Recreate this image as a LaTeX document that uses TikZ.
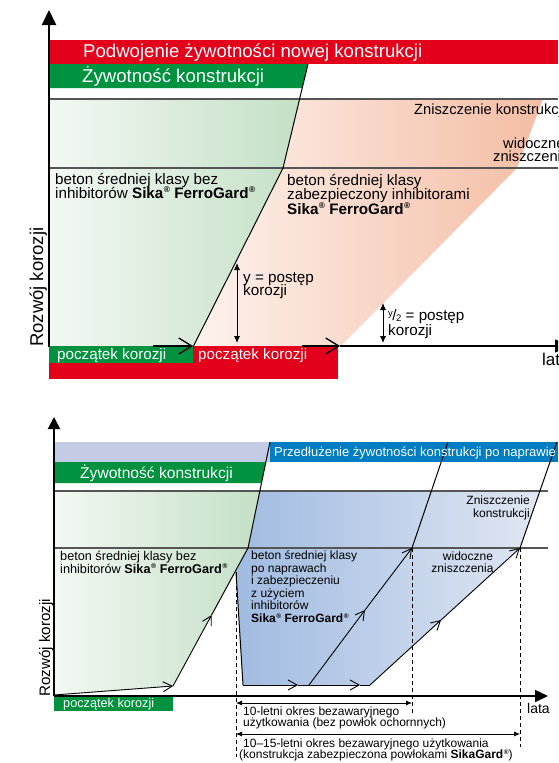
\documentclass[tikz,border=0pt]{standalone}
\usepackage{fontspec}
\usepackage{graphicx}
\setmainfont{Liberation Sans}
\usetikzlibrary{arrows.meta}
\definecolor{sred}{RGB}{226,0,26}
\definecolor{sgreen}{RGB}{0,146,63}
\definecolor{sblue}{RGB}{0,125,195}
\definecolor{slav}{RGB}{196,203,228}
\definecolor{glight}{RGB}{243,248,243}
\definecolor{gdark}{RGB}{196,224,198}
\definecolor{plight}{RGB}{253,242,237}
\definecolor{pdark}{RGB}{244,189,164}
\definecolor{bdark}{RGB}{160,187,225}
\definecolor{blight}{RGB}{225,231,243}
\definecolor{lgray}{RGB}{85,85,85}
\newcommand{\myfs}[1]{\fontsize{#1}{#1}\selectfont}
\newcommand{\sreg}{\kern0.5pt\raisebox{0.33em}{\scalebox{0.55}{®}}}
\begin{document}
\begin{tikzpicture}[x=1pt,y=-1pt,
  lbl/.style={anchor=base west, inner sep=0pt},
  rlbl/.style={anchor=base east, inner sep=0pt},
  clbl/.style={anchor=base, inner sep=0pt},
  axisline/.style={line width=2pt, black},
  thinline/.style={line width=1pt, black},
  grayline/.style={line width=1.1pt, lgray},
  chevbig/.style={-{Straight Barb[length=13pt,width=16pt]}, line width=1.3pt},
  chevsmall/.style={-{Straight Barb[length=9pt,width=10pt]}, line width=0.9pt},
  dimarrow/.style={{Latex[length=6pt,width=5pt]}-{Latex[length=6pt,width=5pt]}, line width=0.8pt},
  dblarrow/.style={{Latex[length=7pt,width=6pt]}-{Latex[length=7pt,width=6pt]}, line width=0.9pt},
  dashv/.style={dash pattern=on 4pt off 3pt, line width=0.8pt},
  bigtip/.style={-{Triangle[length=15pt,width=14pt]}},
]
\useasboundingbox (0,0) rectangle (558,763);
\clip (0,0) rectangle (558,763);

% ================= TOP DIAGRAM =================
\coordinate (A0) at (49,347);
\coordinate (A1) at (193,347);
\coordinate (A2) at (283,168);
\coordinate (A3) at (308,64);
\coordinate (A4) at (300,99);
\coordinate (P1) at (543,99);
\coordinate (P2) at (517,168);
\coordinate (P3) at (340,347);

\fill[sred] (49,40) rectangle (558,64);
\fill[sgreen] (49,64) -- (A3) -- (302,88) -- (49,88) -- cycle;
\shade[left color=glight, right color=gdark] (49,99) -- (A4) -- (A2) -- (A1) -- (A0) -- cycle;
\shade[left color=plight, right color=pdark] (A4) -- (P1) -- (P2) -- (P3) -- (A1) -- (A2) -- cycle;
\fill[sred] (49,346) rectangle (338,379);
\fill[sgreen] (49,346) rectangle (193,363);
\draw[grayline] (49,99) -- (558,99);
\draw[grayline] (49,168) -- (558,168);
\draw[thinline] (A1) -- (A2) -- (A3);

% axes
\draw[axisline, bigtip] (49,347) -- (49,10);
\coordinate (X1) at (153,346);
\coordinate (X2) at (193,346);
\coordinate (X3) at (302,346);
\coordinate (X4) at (340,346);
\coordinate (X5) at (570,346);
\draw[chevbig] (X1) -- (X2);
\draw[chevbig] (X3) -- (X4);
\draw[line width=1.5pt, -{Triangle[length=15pt,width=13pt]}] (X4) -- (X5);

% double arrows
\coordinate (D1a) at (237,263);
\coordinate (D1b) at (237,343);
\coordinate (D2a) at (383,303);
\coordinate (D2b) at (383,343);
\draw[dblarrow] (D1a) -- (D1b);
\draw[dblarrow] (D2a) -- (D2b);

% texts
\node[lbl, text=white, font=\myfs{18.6}] (t1) at (83,57.5) {Podwojenie żywotności nowej konstrukcji};
\node[lbl, text=white, font=\myfs{18.6}] (t2) at (82,82) {Żywotność konstrukcji};
\node[lbl, font=\myfs{14.7}] (t3) at (414,114) {Zniszczenie konstrukcji};
\node[lbl, font=\myfs{14.7}] (t4) at (503,148) {widoczne};
\node[lbl, font=\myfs{14.7}] (t5) at (493,161) {zniszczenia};
\node[lbl, font=\myfs{15.2}] (t6) at (55,184.5) {beton średniej klasy bez};
\node[lbl, font=\myfs{15.2}] (t7) at (55,198) {inhibitorów \textbf{Sika\sreg{} FerroGard\sreg}};
\node[lbl, font=\myfs{15.2}] (t8) at (287,185) {beton średniej klasy};
\node[lbl, font=\myfs{15.2}] (t9) at (287,199) {zabezpieczony inhibitorami};
\node[lbl, font=\myfs{15.2}] (t10) at (287,214) {\textbf{Sika\sreg{} FerroGard\sreg}};
\node[lbl, font=\myfs{15.2}] (t11) at (243,282) {y = postęp};
\node[lbl, font=\myfs{15.2}] (t12) at (243,295) {korozji};
\node[lbl, font=\myfs{15.2}] (t13) at (388,320) {\raisebox{3.5pt}{\myfs{9.5}y}\kern-0.5pt/\kern-0.5pt\raisebox{-1.5pt}{\myfs{9.5}2} = postęp};
\node[lbl, font=\myfs{15.2}] (t14) at (388,335) {korozji};
\node[lbl, text=white, font=\myfs{15.2}] (t15) at (57,359) {początek korozji};
\node[lbl, text=white, font=\myfs{15.2}] (t16) at (198,359) {początek korozji};
\node[lbl, font=\myfs{17}] (t17) at (542,365) {lata};
\node[lbl, rotate=90, font=\myfs{18.5}] (t18) at (43,347) {Rozwój korozji};

% ================= BOTTOM DIAGRAM =================
\coordinate (B0) at (54,695);
\coordinate (B1) at (173,686);
\coordinate (B1m) at (211.6,615);
\coordinate (B2) at (248,548);
\coordinate (B3) at (270,442);
\coordinate (B4) at (260,491);
\coordinate (B5) at (236,572);
\coordinate (C1) at (243,685);
\coordinate (C1m) at (298,685);
\coordinate (C1n) at (360,685);
\coordinate (C2) at (370,685);
\coordinate (Q1) at (540,491);
\coordinate (Q2) at (520,548);
\coordinate (Q3) at (557,442);
\coordinate (L0) at (309,685);
\coordinate (L1m) at (365,610);
\coordinate (L1) at (412,548);
\coordinate (L2) at (448,442);
\coordinate (M1m) at (441,620);

\fill[slav] (54,442) rectangle (270,462);
\fill[sblue] (270,442) rectangle (558,462);
\fill[sgreen] (54,462) -- (265.8,462) -- (261.5,483) -- (54,483) -- cycle;
\shade[left color=glight, right color=gdark] (54,491) -- (B4) -- (B2) -- (B1) -- (B0) -- cycle;
\shade[left color=bdark, right color=blight] (B4) -- (Q1) -- (Q2) -- (C2) -- (C1) -- (B5) -- (B2) -- cycle;
\fill[sgreen] (54,697) rectangle (173,711);
\draw[grayline] (54,491) -- (548,491);
\draw[grayline] (54,548) -- (548,548);

% dashed
\draw[dashv] (B5) -- (236,757);
\draw[dashv] (L1) -- (412,713);
\draw[dashv] (Q2) -- (520,747);

% black paths
\draw[chevsmall] (B0) -- (B1);
\draw[chevsmall] (B1) -- (B1m);
\draw[thinline] (B1m) -- (B2) -- (B3);
\draw[thinline] (B5) -- (C1);
\draw[chevsmall] (C1) -- (C1m);
\draw[chevsmall] (C1m) -- (C1n);
\draw[thinline] (C1n) -- (C2);
\draw[chevsmall] (L0) -- (L1m);
\draw[chevsmall] (L1m) -- (L1);
\draw[thinline] (L1) -- (L2);
\draw[chevsmall] (C2) -- (M1m);
\draw[chevsmall] (M1m) -- (Q2);
\draw[thinline] (Q2) -- (Q3);

% axes
\draw[axisline, -{Triangle[length=12pt,width=12pt]}] (54,696) -- (54,417);
\draw[line width=1.5pt, -{Triangle[length=13pt,width=12pt]}] (54,696) -- (548,696);

% dimension arrows
\coordinate (E1) at (236,703);
\coordinate (E2) at (412,703);
\coordinate (F1) at (236,734);
\coordinate (F2) at (520,734);
\draw[dimarrow] (E1) -- (E2);
\draw[dimarrow] (F1) -- (F2);

% texts
\node[lbl, text=white, font=\myfs{13}] (u1) at (274,456) {Przedłużenie żywotności konstrukcji po naprawie};
\node[lbl, text=white, font=\myfs{15.6}] (u2) at (80,478) {Żywotność konstrukcji};
\node[lbl, font=\myfs{12.7}] (u3) at (60,560) {beton średniej klasy bez};
\node[lbl, font=\myfs{12.7}] (u4) at (60,573) {inhibitorów \textbf{Sika\sreg{} FerroGard\sreg}};
\node[lbl, font=\myfs{12}] (u5) at (251,559.5) {beton średniej klasy};
\node[lbl, font=\myfs{12}] (u6) at (251,572) {po naprawach};
\node[lbl, font=\myfs{12}] (u7) at (251,584.5) {i zabezpieczeniu};
\node[lbl, font=\myfs{12}] (u8) at (251,597) {z użyciem};
\node[lbl, font=\myfs{12}] (u9) at (251,609.5) {inhibitorów};
\node[lbl, font=\myfs{12}] (u10) at (251,622) {\textbf{Sika\sreg{} FerroGard\sreg}};
\node[rlbl, font=\myfs{12}] (u11) at (530,504) {Zniszczenie};
\node[rlbl, font=\myfs{12}] (u12) at (530,517) {konstrukcji};
\node[clbl, font=\myfs{12}] (u13) at (468,560) {widoczne};
\node[clbl, font=\myfs{12}] (u14) at (462.5,572) {zniszczenia};
\node[lbl, font=\myfs{12}] (u15) at (243,715) {10-letni okres bezawaryjnego};
\node[lbl, font=\myfs{12}] (u16) at (243,726) {użytkowania (bez powłok ochornnych)};
\node[lbl, font=\myfs{12}] (u17) at (243,747) {10–15-letni okres bezawaryjnego użytkowania};
\node[lbl, font=\myfs{12}] (u18) at (239,758) {(konstrukcja zabezpieczona powłokami \textbf{SikaGard\sreg})};
\node[lbl, font=\myfs{14}] (u19) at (527,713) {lata};
\node[lbl, text=white, font=\myfs{12.7}] (u20) at (63,707) {początek korozji};
\node[lbl, rotate=90, font=\myfs{15.2}] (u21) at (50,697) {Rozwój korozji};
\end{tikzpicture}
\end{document}
